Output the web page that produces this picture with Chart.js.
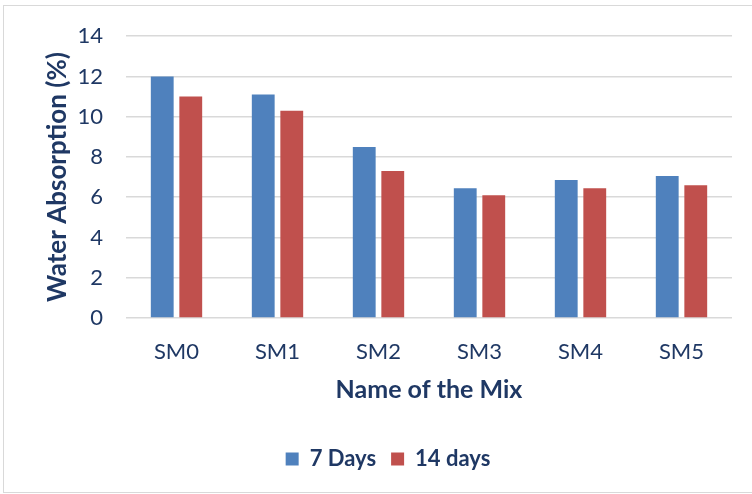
<!DOCTYPE html>
<html>
<head>
<meta charset="utf-8">
<script src="https://cdn.jsdelivr.net/npm/chart.js@4/dist/chart.umd.min.js"></script>
<style>
  html, body { margin: 0; padding: 0; background: #fff; }
  #frame { position: absolute; left: 3px; top: 5px; width: 760px; height: 486px; border: 1px solid #d9d9d9; }
  #wrap { position: absolute; left: 0; top: 0; width: 752px; height: 494px; }
</style>
</head>
<body>
<div id="frame"></div>
<div id="wrap"><canvas id="c" width="752" height="494"></canvas></div>
<script>
// Water absorption of each mix after 7 and 14 days of curing
const mixes = ['SM0', 'SM1', 'SM2', 'SM3', 'SM4', 'SM5'];
const days7 = [12.0, 11.1, 8.5, 6.45, 6.85, 7.05];
const days14 = [11.0, 10.3, 7.3, 6.1, 6.45, 6.6];
const yTicks = [0, 2, 4, 6, 8, 10, 12, 14];

const navy = '#1f3864';
const font = 'Lato, "Liberation Sans", sans-serif';

// nudge the legend row a little to the right of the canvas centre
const legendShift = {
  id: 'legendShift',
  afterLayout(chart) {
    const lg = chart.legend;
    if (lg) { lg.left += 22; lg.right += 22; }
  }
};

new Chart(document.getElementById('c'), {
  type: 'bar',
  data: {
    labels: mixes,
    datasets: [
      { label: '7 Days', data: days7, backgroundColor: '#4f81bd' },
      { label: '14 days', data: days14, backgroundColor: '#c0504d' }
    ]
  },
  plugins: [legendShift],
  options: {
    responsive: false,
    animation: false,
    layout: { padding: { left: 0, right: 20, top: 25, bottom: 14 } },
    datasets: { bar: { categoryPercentage: 0.565, barPercentage: 0.8 } },
    plugins: {
      tooltip: { enabled: false },
      legend: {
        position: 'bottom',
        labels: {
          color: navy,
          font: { family: font, size: 22, weight: 'bold' },
          boxWidth: 13, boxHeight: 13, padding: 15
        }
      }
    },
    scales: {
      x: {
        afterFit: s => { s.height = 115; },
        grid: { display: false, drawTicks: false },
        border: { display: false },
        ticks: { color: navy, font: { family: font, size: 22 }, padding: 21 },
        title: {
          display: true, text: 'Name of the Mix', color: navy,
          font: { family: font, size: 25, weight: 'bold' }, padding: { top: 0, bottom: 28 }
        }
      },
      y: {
        min: 0, max: 14,
        afterBuildTicks: s => { s.ticks = yTicks.map(v => ({ value: v })); },
        afterFit: s => { s.width = 126; },
        grid: { color: '#d9d9d9', lineWidth: 1.5, drawTicks: false },
        border: { display: false },
        ticks: { color: navy, font: { family: font, size: 22 }, padding: 23 },
        title: {
          display: true, text: 'Water Absorption (%)', color: navy,
          font: { family: font, size: 26, weight: 'bold' }, padding: { top: 42, bottom: 0 }
        }
      }
    }
  }
});
</script>
</body>
</html>
